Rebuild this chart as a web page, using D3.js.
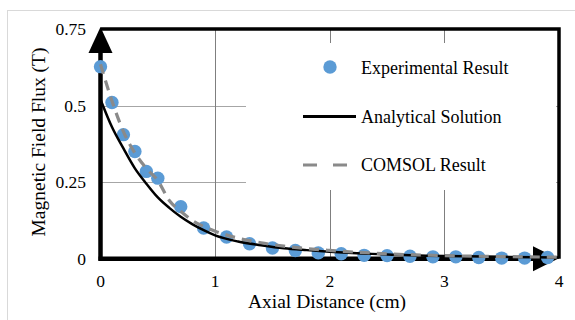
<!DOCTYPE html>
<html>
<head>
<meta charset="utf-8">
<script src="https://cdn.jsdelivr.net/npm/d3@7"></script>
<style>
html,body{margin:0;padding:0;background:#fff;}
svg{display:block;}
text{font-family:"Liberation Serif","Times New Roman",serif;fill:#000;}
</style>
</head>
<body>
<svg id="chart" width="575" height="320"></svg>
<script>
// ---- data ----
const xTicks = [0, 1, 2, 3, 4];
const xTickLabels = ["0", "1", "2", "3", "4"];
const yTicks = [0, 0.25, 0.5, 0.75];
const yTickLabels = ["0", "0.25", "0.5", "0.75"];

const expX = [0, 0.1, 0.2, 0.3, 0.4, 0.5, 0.7, 0.9, 1.1, 1.3, 1.5, 1.7, 1.9, 2.1, 2.3, 2.5, 2.7, 2.9, 3.1, 3.3, 3.5, 3.7, 3.9];
const expY = [0.627, 0.51, 0.405, 0.35, 0.285, 0.263, 0.17, 0.10, 0.071, 0.049, 0.035, 0.027, 0.019, 0.016, 0.011, 0.010, 0.008, 0.006, 0.006, 0.004, 0.002, 0.002, 0.004];

const anaX = [0, 0.1, 0.2, 0.3, 0.4, 0.5, 0.6, 0.7, 0.8, 0.9, 1.0, 1.2, 1.4, 1.6, 1.8, 2.0, 2.5, 3.0, 3.5, 4.0];
const anaY = [0.52, 0.43, 0.36, 0.295, 0.245, 0.20, 0.166, 0.137, 0.113, 0.093, 0.076, 0.056, 0.044, 0.034, 0.028, 0.023, 0.014, 0.009, 0.006, 0.004];

const comX = [0, 0.1, 0.2, 0.3, 0.4, 0.5, 0.6, 0.7, 0.8, 0.9, 1.0, 1.2, 1.4, 1.6, 1.8, 2.0, 2.5, 3.0, 3.5, 4.0];
const comY = [0.635, 0.515, 0.415, 0.345, 0.295, 0.255, 0.19, 0.155, 0.125, 0.105, 0.09, 0.067, 0.052, 0.041, 0.033, 0.027, 0.016, 0.010, 0.007, 0.005];

const legendLabels = ["Experimental Result", "Analytical Solution", "COMSOL Result"];
const xTitle = "Axial Distance (cm)";
const yTitle = "Magnetic Field Flux (T)";

// ---- drawing ----
const svg = d3.select("#chart");
const x = d3.scaleLinear().domain([0, 4]).range([100.5, 559]);
const y = d3.scaleLinear().domain([0, 0.75]).range([258.7, 29]);

const blue = "#5b9bd5";
const gray = "#8a8a8a";

// outer chart border
svg.append("rect").attr("x", 7.5).attr("y", 10.5).attr("width", 620).attr("height", 400)
  .attr("fill", "#fff").attr("stroke", "#d9d9d9").attr("stroke-width", 1);

// gridlines
svg.append("g").selectAll("line").data(yTicks.filter(d => d > 0 && d < 0.75)).join("line")
  .attr("x1", x(0)).attr("x2", x(4)).attr("y1", d => Math.round(y(d)) + 0.5).attr("y2", d => Math.round(y(d)) + 0.5)
  .attr("stroke", "#a6a6a6").attr("stroke-width", 1);
svg.append("g").selectAll("line").data(xTicks.filter(d => d > 0 && d < 4)).join("line")
  .attr("x1", d => Math.round(x(d)) + 0.5).attr("x2", d => Math.round(x(d)) + 0.5).attr("y1", y(0.75)).attr("y2", y(0))
  .attr("stroke", "#7f7f7f").attr("stroke-width", 1);

// plot frame (top, right)
svg.append("path")
  .attr("d", `M${x(0)},${y(0.75)}H${x(4)}V${y(0)}`)
  .attr("fill", "none").attr("stroke", "#000").attr("stroke-width", 3.5);

// axis lines with arrows
svg.append("line").attr("x1", x(0)).attr("x2", x(0)).attr("y1", y(0) + 2).attr("y2", y(0.75) + 20)
  .attr("stroke", "#000").attr("stroke-width", 4.5);
svg.append("line").attr("x1", x(0) - 2).attr("x2", x(4) - 20).attr("y1", y(0)).attr("y2", y(0))
  .attr("stroke", "#000").attr("stroke-width", 4.5);
svg.append("path")
  .attr("d", `M${x(0)},${y(0.75) - 2}L${x(0) - 12},${y(0.75) + 24}L${x(0) + 12},${y(0.75) + 24}Z`)
  .attr("fill", "#000");
svg.append("path")
  .attr("d", `M${x(4) - 1},${y(0)}L${x(4) - 26},${y(0) - 12.5}L${x(4) - 26},${y(0) + 12.5}Z`)
  .attr("fill", "#000");

// tick labels
svg.append("g").selectAll("text").data(yTicks).join("text")
  .attr("x", 86).attr("y", d => y(d) + 6)
  .attr("text-anchor", "end").attr("font-size", 17.5)
  .text((d, i) => yTickLabels[i]);
svg.append("g").selectAll("text").data(xTicks).join("text")
  .attr("x", d => x(d)).attr("y", 287)
  .attr("text-anchor", "middle").attr("font-size", 17.5)
  .text((d, i) => xTickLabels[i]);

// axis titles
svg.append("text").attr("x", 327).attr("y", 308).attr("text-anchor", "middle")
  .attr("font-size", 19.5).text(xTitle);
svg.append("text").attr("transform", "translate(44.5,142) rotate(-90)").attr("text-anchor", "middle")
  .attr("font-size", 19.5).text(yTitle);

// series: experimental points
const expData = expX.map((v, i) => ({ x: v, y: expY[i] }));
svg.append("g").selectAll("circle").data(expData).join("circle")
  .attr("cx", d => x(d.x)).attr("cy", d => y(d.y)).attr("r", 6.7)
  .attr("fill", blue);

// analytical line
const anaData = anaX.map((v, i) => ({ x: v, y: anaY[i] }));
const lineGen = d3.line().x(d => x(d.x)).y(d => y(d.y)).curve(d3.curveMonotoneX);
svg.append("path").datum(anaData).attr("d", lineGen)
  .attr("fill", "none").attr("stroke", "#000").attr("stroke-width", 2.5);

// COMSOL dashed
const comData = comX.map((v, i) => ({ x: v, y: comY[i] }));
svg.append("path").datum(comData).attr("d", lineGen)
  .attr("fill", "none").attr("stroke", gray).attr("stroke-width", 3.2)
  .attr("stroke-dasharray", "10,7");

// legend
const lg = svg.append("g");
lg.append("rect").attr("x", 246).attr("y", 43).attr("width", 310).attr("height", 147).attr("fill", "#fff");
lg.append("circle").attr("cx", 330).attr("cy", 67).attr("r", 6.7).attr("fill", blue);
lg.append("line").attr("x1", 303).attr("x2", 356).attr("y1", 116.5).attr("y2", 116.5)
  .attr("stroke", "#000").attr("stroke-width", 2.8);
lg.append("line").attr("x1", 303).attr("x2", 352).attr("y1", 165).attr("y2", 165)
  .attr("stroke", gray).attr("stroke-width", 3.2).attr("stroke-dasharray", "14,16");
lg.selectAll("text").data(legendLabels).join("text")
  .attr("x", 361).attr("y", (d, i) => 74 + i * 48.5)
  .attr("font-size", 18).text(d => d);
</script>
</body>
</html>
